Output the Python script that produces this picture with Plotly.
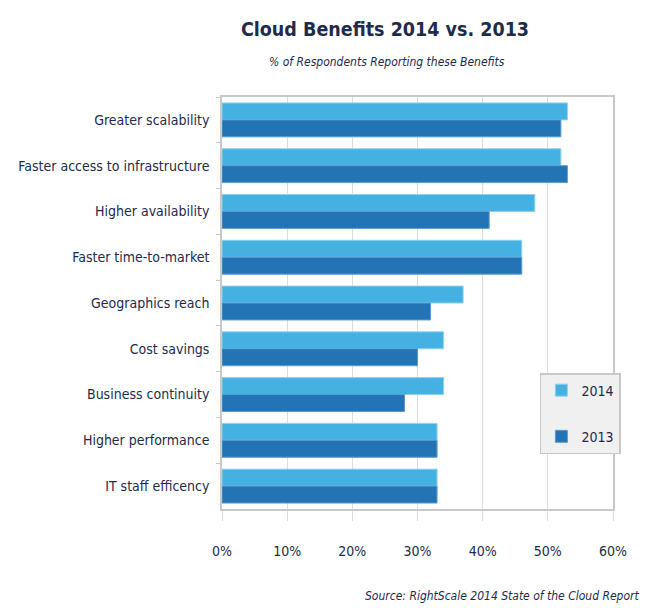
import plotly.graph_objects as go

categories = ["Greater scalability", "Faster access to infrastructure", "Higher availability",
              "Faster time-to-market", "Geographics reach", "Cost savings",
              "Business continuity", "Higher performance", "IT staff efficency"]
values_2014 = [53, 52, 48, 46, 37, 34, 34, 33, 33]
values_2013 = [52, 53, 41, 46, 32, 30, 28, 33, 33]
x_ticks = [0, 10, 20, 30, 40, 50, 60]
x_tick_labels = ["0%", "10%", "20%", "30%", "40%", "50%", "60%"]

FONT = "DejaVu Sans Condensed, Liberation Sans Narrow, sans-serif"
NAVY = "#1d2b4c"

fig = go.Figure()
fig.add_trace(go.Bar(y=categories, x=values_2014, orientation="h", name="2014",
                     legendgroup="a",
                     marker=dict(color="#45b1e2", line=dict(color="#8fd0ef", width=1))))
fig.add_trace(go.Bar(y=categories, x=values_2013, orientation="h", name="2013",
                     legendgroup="b",
                     marker=dict(color="#2274b5", line=dict(color="#5c9bd0", width=1))))

# the page body adds an 8px offset, so the figure is 8px smaller on each axis
fig.update_layout(
    width=649, height=600,
    margin=dict(l=214, r=44, t=89, b=99),
    paper_bgcolor="white", plot_bgcolor="white",
    barmode="group", bargap=0.26, bargroupgap=0,
    font=dict(family=FONT, color=NAVY, size=14),
    title=dict(text="<b>Cloud Benefits 2014 vs. 2013</b>", x=(385 - 8) / 649, xanchor="center",
               y=1 - 21 / 600, yanchor="middle", yref="container",
               font=dict(family=FONT, size=19.5, color=NAVY)),
    legend=dict(x=0.813, y=0.33, xanchor="left", yanchor="top",
                bgcolor="#f0f0f0", bordercolor="#c8c8c8", borderwidth=1.5,
                font=dict(size=14, family=FONT, color=NAVY),
                tracegroupgap=25, itemwidth=30),
    xaxis=dict(range=[0, 60], tickvals=x_ticks, ticktext=x_tick_labels,
               showgrid=True, gridcolor="#dcdcdc", gridwidth=1,
               showline=True, linecolor="#c8c8c8", linewidth=1.5, mirror=True,
               ticks="outside", ticklen=10, tickcolor="#dcdcdc", ticklabelstandoff=18,
               tickfont=dict(size=14, family=FONT, color=NAVY), zeroline=False,
               automargin=False),
    yaxis=dict(autorange="reversed", showgrid=False,
               showline=True, linecolor="#c8c8c8", linewidth=1.5, mirror=True,
               ticks="outside", ticklen=4, tickcolor="#c8c8c8", tickson="boundaries",
               ticklabelstandoff=8,
               tickfont=dict(size=14, family=FONT, color=NAVY), automargin=False),
    annotations=[
        dict(text="<i>% of Respondents Reporting these Benefits</i>", xref="paper", yref="paper",
             x=0.422, y=1.085, xanchor="center", yanchor="middle", showarrow=False,
             font=dict(size=12, family=FONT, color=NAVY)),
        dict(text="<i>Source: RightScale 2014 State of the Cloud Report</i>", xref="paper", yref="paper",
             x=1.0716, y=-0.211, xanchor="right", yanchor="middle", showarrow=False,
             font=dict(size=12, family=FONT, color=NAVY)),
    ],
)

fig.write_html("out.html")
